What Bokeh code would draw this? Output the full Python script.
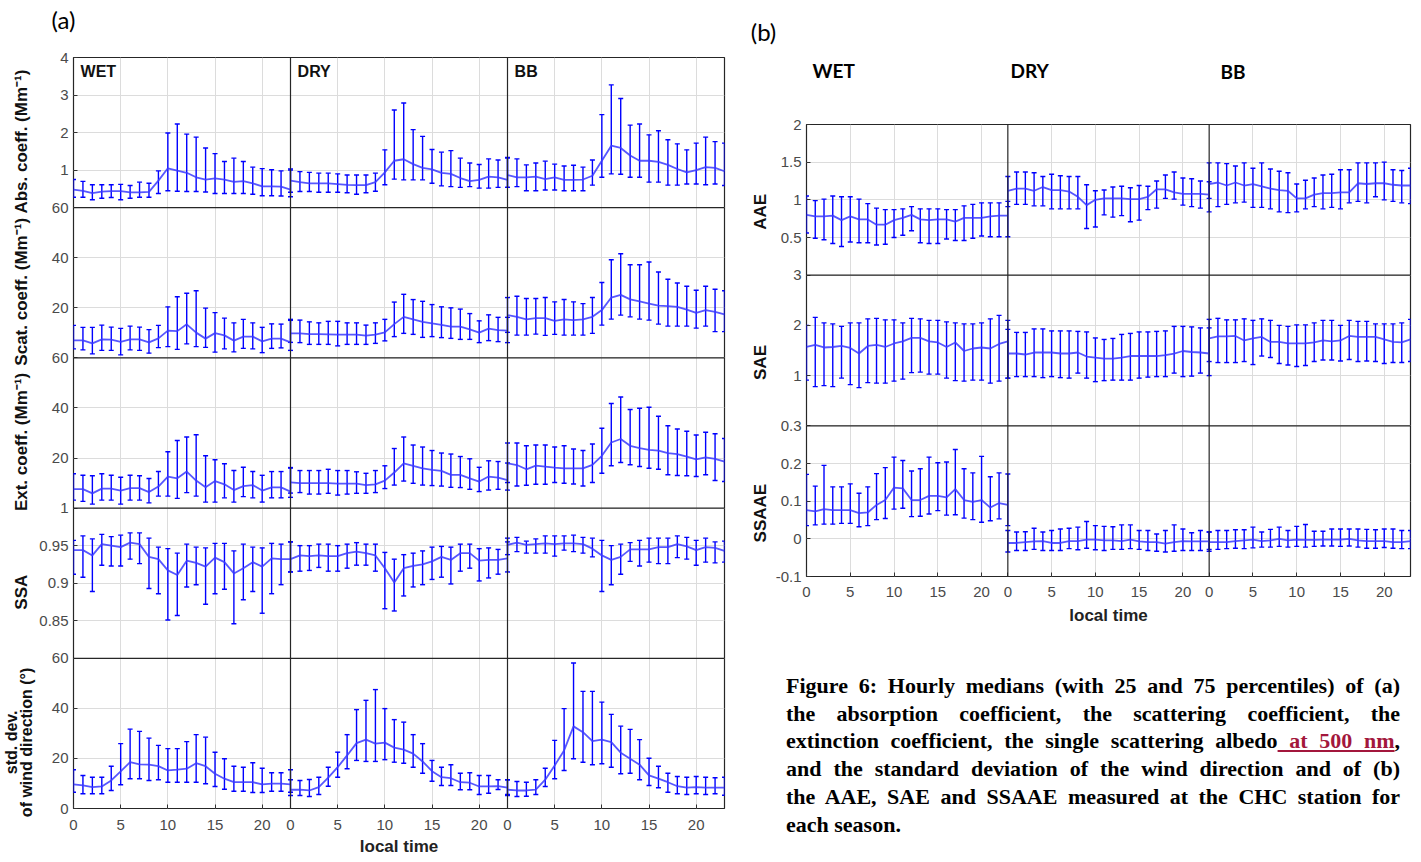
import math
from bokeh.plotting import figure
from bokeh.models import (Range1d, FixedTicker, ColumnDataSource, Whisker,
                          TeeHead, Span, Label, Div)
from bokeh.layouts import row, column
from bokeh.embed import file_html
from bokeh.resources import INLINE

hours = list(range(24))
seasons = ["WET", "DRY", "BB"]
hour_ticks = [0, 5, 10, 15, 20]

# ---------------- panel (a) data: median, 75th (hi), 25th (lo) ----------------
abs_wet_med = [0.48,0.45,0.39,0.43,0.44,0.44,0.41,0.41,0.42,0.72,1.05,0.99,0.93,0.81,0.75,0.78,0.75,0.69,0.71,0.65,0.57,0.57,0.56,0.48]
abs_wet_hi = [0.75,0.70,0.61,0.61,0.61,0.62,0.59,0.68,0.65,0.98,1.99,2.23,1.96,1.88,1.59,1.44,1.23,1.32,1.23,1.08,1.04,1.01,0.98,1.00]
abs_wet_lo = [0.28,0.28,0.21,0.25,0.27,0.21,0.25,0.28,0.28,0.38,0.45,0.44,0.43,0.43,0.42,0.38,0.38,0.38,0.38,0.36,0.32,0.32,0.31,0.29]
abs_dry_med = [0.72,0.68,0.65,0.65,0.65,0.63,0.61,0.60,0.60,0.68,0.94,1.25,1.29,1.16,1.06,1.02,0.93,0.90,0.79,0.71,0.74,0.83,0.81,0.74]
abs_dry_hi = [1.03,0.96,0.94,0.92,0.92,0.90,0.87,0.87,0.87,0.92,1.54,2.60,2.79,2.08,1.90,1.55,1.48,1.52,1.32,1.19,1.15,1.30,1.27,1.32]
abs_dry_lo = [0.41,0.43,0.43,0.41,0.41,0.41,0.40,0.36,0.40,0.44,0.61,0.76,0.74,0.74,0.74,0.65,0.58,0.56,0.54,0.56,0.52,0.52,0.54,0.54]
abs_bb_med = [0.87,0.81,0.81,0.83,0.76,0.81,0.74,0.74,0.75,0.85,1.25,1.65,1.59,1.39,1.25,1.25,1.22,1.14,1.03,0.94,1.00,1.08,1.06,0.97]
abs_bb_hi = [1.34,1.30,1.14,1.19,1.24,1.16,1.11,1.13,1.08,1.27,2.48,3.27,2.91,2.20,2.23,1.94,2.05,1.81,1.70,1.54,1.72,1.88,1.76,1.72]
abs_bb_lo = [0.54,0.56,0.45,0.45,0.47,0.47,0.45,0.45,0.45,0.60,0.81,0.90,0.89,0.81,0.81,0.68,0.68,0.60,0.60,0.63,0.63,0.61,0.63,0.59]

scat_wet_med = [7.0,7.0,5.8,7.4,7.3,6.4,7.4,7.4,6.2,7.8,10.9,10.7,13.4,10.1,7.7,9.9,9.0,6.9,8.5,8.5,6.6,7.7,7.7,6.2]
scat_wet_hi = [13.0,12.2,12.2,13.1,12.3,11.8,12.7,12.3,11.3,13.0,20.4,24.4,25.8,26.8,19.9,18.1,15.9,14.0,15.4,14.0,12.2,13.6,13.5,15.4]
scat_wet_lo = [3.6,3.2,1.6,3.0,3.0,1.2,3.2,3.0,1.9,4.1,4.5,3.4,5.6,4.5,4.2,2.3,3.6,2.4,3.8,3.6,2.1,3.8,4.0,3.0]
scat_dry_med = [9.8,9.8,9.5,9.5,9.4,9.3,9.3,9.3,8.9,9.3,10.2,13.5,16.4,15.4,14.4,13.8,13.2,12.5,12.5,11.4,10.1,11.7,11.1,10.9]
scat_dry_hi = [15.0,15.1,14.4,14.0,14.6,14.6,14.0,14.0,13.1,14.0,15.4,22.3,25.4,23.3,22.6,21.3,20.4,20.0,19.5,17.7,14.8,17.2,16.2,16.2]
scat_dry_lo = [6.2,6.1,5.4,5.4,5.4,4.8,5.4,5.4,5.4,5.8,6.8,8.5,9.8,9.4,8.2,8.5,8.1,7.8,7.4,7.4,6.1,6.9,6.5,6.1]
scat_bb_med = [17.1,16.4,15.4,15.9,15.9,14.8,15.4,15.1,15.4,16.4,19.1,24.1,25.2,23.4,22.6,21.7,20.9,20.7,20.4,19.3,18.0,19.1,18.4,17.4]
scat_bb_hi = [24.1,24.6,23.7,23.7,24.1,22.4,23.3,22.4,21.7,24.1,30.1,39.2,41.6,37.2,37.2,38.3,34.3,31.4,29.9,28.6,27.0,28.6,27.4,26.8]
scat_bb_lo = [10.2,9.1,9.1,9.5,9.0,9.4,9.1,9.1,9.1,9.8,13.1,15.5,17.1,16.4,15.5,15.1,13.5,12.7,12.7,12.7,11.9,12.7,10.5,10.5]

ext_wet_med = [7.6,7.6,5.9,7.8,7.8,7.0,8.0,8.0,6.4,8.6,12.6,11.9,14.6,11.0,8.3,10.8,9.5,7.2,8.8,9.2,7.0,8.3,8.3,6.6]
ext_wet_hi = [13.7,13.1,12.9,13.7,13.1,12.3,13.1,12.9,11.8,14.6,22.5,27.0,28.4,29.3,20.9,19.3,17.7,15.0,16.3,14.6,13.1,14.6,14.6,16.2]
ext_wet_lo = [3.2,2.7,1.6,3.2,3.2,1.6,3.2,3.2,2.1,4.8,4.8,3.9,6.2,4.8,2.4,2.4,4.1,2.4,4.6,4.1,2.4,4.1,4.1,4.3]
ext_dry_med = [10.3,10.0,10.0,10.0,10.0,9.8,9.8,9.8,9.2,9.5,11.0,14.2,17.9,16.9,15.9,15.3,14.9,13.3,13.3,11.9,10.6,12.6,12.2,11.2]
ext_dry_hi = [16.0,15.0,15.0,15.0,15.5,15.0,15.0,14.5,13.9,15.0,16.9,23.8,28.4,25.2,24.4,23.0,22.0,21.6,20.6,19.7,16.3,18.9,18.6,18.0]
ext_dry_lo = [6.0,6.2,5.6,5.6,5.9,5.2,5.6,5.9,5.9,6.2,7.8,9.2,10.8,9.9,9.2,9.0,8.8,8.3,8.2,7.5,6.6,7.2,7.5,7.2]
ext_bb_med = [17.9,17.2,15.5,17.0,16.6,16.2,15.9,15.9,15.9,17.3,20.9,26.2,27.6,24.9,24.0,23.3,23.0,22.0,21.6,20.6,19.5,20.3,19.7,18.6]
ext_bb_hi = [26.0,26.0,24.9,25.2,25.2,24.4,24.9,23.6,23.0,25.6,31.9,41.8,44.4,39.4,39.9,40.3,36.7,32.9,31.6,30.7,29.2,30.3,29.7,27.8]
ext_bb_lo = [10.2,8.8,9.1,9.5,9.5,10.2,9.9,9.6,8.8,10.2,13.9,16.9,18.2,17.3,16.6,15.9,15.5,13.3,13.0,12.9,12.6,13.3,11.0,10.6]

ssa_wet_med = [0.944,0.944,0.937,0.952,0.950,0.948,0.954,0.952,0.935,0.932,0.917,0.911,0.930,0.927,0.922,0.934,0.928,0.913,0.920,0.928,0.922,0.933,0.932,0.932]
ssa_wet_hi = [0.957,0.963,0.959,0.965,0.962,0.964,0.967,0.967,0.960,0.948,0.946,0.940,0.952,0.948,0.947,0.953,0.953,0.943,0.952,0.948,0.947,0.953,0.952,0.955]
ssa_wet_lo = [0.912,0.908,0.889,0.924,0.923,0.923,0.932,0.926,0.893,0.886,0.851,0.857,0.895,0.898,0.872,0.886,0.892,0.846,0.878,0.889,0.860,0.886,0.898,0.915]
ssa_dry_med = [0.932,0.937,0.936,0.937,0.936,0.936,0.940,0.942,0.940,0.937,0.920,0.901,0.920,0.923,0.925,0.929,0.935,0.931,0.940,0.940,0.930,0.931,0.931,0.933]
ssa_dry_hi = [0.955,0.950,0.950,0.952,0.952,0.950,0.952,0.954,0.952,0.952,0.941,0.932,0.938,0.940,0.943,0.948,0.949,0.948,0.952,0.952,0.946,0.947,0.945,0.955]
ssa_dry_lo = [0.915,0.916,0.917,0.921,0.916,0.916,0.920,0.924,0.924,0.916,0.866,0.863,0.883,0.895,0.898,0.905,0.908,0.899,0.916,0.920,0.903,0.907,0.912,0.915]
ssa_bb_med = [0.951,0.954,0.951,0.952,0.953,0.952,0.953,0.953,0.952,0.946,0.937,0.931,0.935,0.945,0.945,0.945,0.948,0.948,0.952,0.949,0.944,0.948,0.947,0.943]
ssa_bb_hi = [0.960,0.961,0.956,0.959,0.963,0.963,0.963,0.964,0.961,0.960,0.957,0.950,0.952,0.954,0.957,0.960,0.960,0.960,0.963,0.961,0.957,0.960,0.955,0.956]
ssa_bb_lo = [0.938,0.942,0.940,0.940,0.940,0.936,0.944,0.942,0.940,0.935,0.889,0.898,0.912,0.929,0.923,0.928,0.926,0.926,0.934,0.932,0.924,0.928,0.927,0.928]

wind_wet_med = [9.6,9.2,8.5,8.8,11.2,14.8,18.5,17.6,17.5,16.9,15.2,15.5,15.9,18.1,16.9,13.9,11.9,10.5,10.5,10.5,9.6,9.9,9.9,9.6]
wind_wet_hi = [15.5,13.2,12.5,12.5,16.9,25.9,31.7,30.8,28.1,25.2,23.9,23.9,26.7,29.5,28.5,22.5,19.9,16.9,16.5,18.3,16.1,14.3,14.3,15.5]
wind_wet_lo = [6.5,5.9,5.9,5.9,7.2,9.5,11.9,11.9,11.2,11.5,10.5,10.5,10.5,10.5,9.9,8.8,7.7,6.9,6.9,6.4,6.4,6.9,6.9,6.5]
wind_dry_med = [7.5,7.5,7.2,8.5,12.3,16.5,21.2,26.1,27.5,25.9,26.3,24.3,23.5,21.9,18.8,14.9,12.5,12.1,10.5,10.3,8.8,8.8,8.9,8.3]
wind_dry_hi = [11.5,11.2,11.6,12.5,16.5,22.5,29.5,39.5,43.2,47.5,39.9,35.5,34.5,29.5,25.9,19.2,16.5,17.5,14.1,14.3,13.2,13.2,11.5,11.5]
wind_dry_lo = [5.2,5.2,4.8,5.6,8.9,12.5,15.9,19.2,18.8,18.8,19.5,18.5,18.1,16.5,14.1,10.9,9.2,9.2,7.5,7.5,5.6,6.1,7.6,5.2]
wind_bb_med = [7.5,7.2,7.2,7.5,11.5,17.2,23.2,32.8,30.5,26.9,27.5,26.5,22.3,19.9,17.5,13.2,11.9,10.5,8.9,8.3,8.5,8.3,8.3,8.3]
wind_bb_hi = [11.5,10.8,10.5,11.5,16.1,27.2,39.9,58.1,46.8,46.8,42.5,37.6,32.9,31.6,27.5,20.1,16.9,14.1,12.8,12.5,12.8,12.5,12.3,12.5]
wind_bb_lo = [5.6,4.8,4.9,5.6,8.8,11.9,15.2,19.9,18.5,17.5,17.9,16.5,13.9,14.1,11.5,9.2,8.3,6.5,5.9,5.6,5.9,5.6,5.9,5.3]

# ---------------- panel (b) data ----------------
aae_wet_med = [0.80,0.78,0.78,0.79,0.73,0.78,0.74,0.74,0.67,0.67,0.73,0.76,0.80,0.74,0.73,0.74,0.74,0.71,0.76,0.76,0.76,0.78,0.79,0.79]
aae_wet_hi = [1.05,0.99,1.01,1.05,1.04,1.04,1.01,0.95,0.89,0.87,0.87,0.88,0.91,0.88,0.88,0.88,0.87,0.87,0.92,0.94,0.96,0.96,0.96,0.98]
aae_wet_lo = [0.56,0.49,0.47,0.42,0.38,0.44,0.43,0.43,0.40,0.41,0.50,0.53,0.59,0.43,0.42,0.42,0.48,0.46,0.46,0.49,0.52,0.51,0.51,0.51]
aae_dry_med = [1.12,1.15,1.15,1.12,1.17,1.13,1.13,1.11,1.04,0.93,1.00,1.02,1.02,1.02,1.01,1.01,1.04,1.14,1.14,1.10,1.08,1.08,1.08,1.07]
aae_dry_hi = [1.31,1.37,1.37,1.36,1.31,1.34,1.32,1.31,1.31,1.20,1.12,1.13,1.17,1.18,1.16,1.19,1.18,1.25,1.33,1.37,1.29,1.28,1.25,1.24]
aae_dry_lo = [0.91,0.94,0.94,0.92,0.92,0.88,0.88,0.88,0.88,0.62,0.64,0.80,0.77,0.79,0.71,0.73,0.87,0.89,1.02,1.01,0.93,0.91,0.89,0.84]
aae_bb_med = [1.21,1.23,1.19,1.23,1.19,1.21,1.18,1.15,1.13,1.12,1.02,1.02,1.07,1.09,1.09,1.10,1.10,1.22,1.21,1.22,1.22,1.20,1.19,1.19]
aae_bb_hi = [1.49,1.49,1.48,1.45,1.49,1.42,1.49,1.41,1.38,1.36,1.21,1.26,1.29,1.33,1.34,1.40,1.40,1.49,1.49,1.49,1.50,1.40,1.39,1.42]
aae_bb_lo = [1.02,0.91,0.94,0.96,0.97,0.90,0.90,0.88,0.84,0.83,0.84,0.88,0.91,0.88,0.90,0.88,0.96,0.98,0.96,1.04,1.00,0.98,0.96,0.95]

sae_wet_med = [1.57,1.61,1.56,1.57,1.59,1.55,1.44,1.59,1.61,1.57,1.64,1.68,1.75,1.75,1.68,1.66,1.57,1.66,1.49,1.54,1.56,1.54,1.63,1.68]
sae_wet_hi = [2.00,2.16,2.05,2.03,1.98,2.05,2.05,2.13,2.14,2.11,2.11,2.05,2.14,2.13,2.10,2.10,2.07,2.05,2.03,2.03,2.05,2.13,2.20,2.10]
sae_wet_lo = [0.91,0.78,0.80,0.78,0.95,0.82,0.76,0.86,0.85,0.85,0.89,0.93,1.06,1.07,1.03,1.03,0.95,0.90,0.89,0.91,0.91,0.85,0.89,0.95]
sae_dry_med = [1.44,1.44,1.42,1.46,1.46,1.46,1.44,1.44,1.46,1.38,1.36,1.34,1.34,1.36,1.39,1.39,1.39,1.39,1.41,1.44,1.49,1.47,1.46,1.44]
sae_dry_hi = [1.92,1.86,1.86,1.93,1.93,1.89,1.89,1.89,1.88,1.87,1.75,1.72,1.74,1.82,1.84,1.87,1.87,1.88,1.89,1.98,1.98,1.97,1.95,1.95]
sae_dry_lo = [0.95,0.98,0.98,0.98,0.96,0.98,0.96,0.95,1.05,0.95,0.88,0.90,0.91,0.91,0.91,0.95,0.97,0.98,0.98,1.05,0.98,0.99,1.05,1.00]
sae_bb_med = [1.74,1.78,1.78,1.79,1.70,1.74,1.77,1.67,1.67,1.64,1.64,1.64,1.66,1.70,1.68,1.70,1.79,1.77,1.77,1.77,1.72,1.67,1.66,1.72]
sae_bb_hi = [2.12,2.14,2.11,2.11,2.13,2.10,2.13,2.10,2.00,1.98,2.01,2.01,2.05,2.10,2.10,2.00,2.10,2.08,2.08,2.03,2.03,2.03,2.05,2.12]
sae_bb_lo = [1.28,1.26,1.26,1.26,1.28,1.22,1.39,1.36,1.24,1.21,1.18,1.20,1.28,1.31,1.31,1.29,1.32,1.28,1.29,1.28,1.24,1.26,1.26,1.28]

ssaae_wet_med = [0.076,0.073,0.079,0.076,0.076,0.076,0.068,0.070,0.090,0.103,0.136,0.134,0.103,0.103,0.114,0.114,0.110,0.132,0.103,0.098,0.103,0.083,0.095,0.090]
ssaae_wet_hi = [0.171,0.140,0.195,0.138,0.138,0.146,0.121,0.138,0.173,0.189,0.217,0.208,0.180,0.186,0.217,0.202,0.204,0.237,0.186,0.175,0.219,0.165,0.175,0.172]
ssaae_wet_lo = [0.035,0.037,0.039,0.039,0.041,0.041,0.032,0.035,0.051,0.054,0.079,0.081,0.059,0.060,0.066,0.075,0.063,0.064,0.055,0.051,0.044,0.048,0.053,0.035]
ssaae_dry_med = [-0.011,-0.011,-0.009,-0.007,-0.006,-0.011,-0.011,-0.006,-0.006,-0.002,-0.002,-0.004,-0.004,-0.006,-0.002,-0.007,-0.009,-0.009,-0.013,-0.009,-0.006,-0.007,-0.007,-0.007]
ssaae_dry_hi = [0.022,0.018,0.019,0.028,0.018,0.022,0.026,0.028,0.031,0.046,0.035,0.033,0.032,0.037,0.037,0.022,0.022,0.013,0.022,0.037,0.026,0.016,0.022,0.018]
ssaae_dry_lo = [-0.035,-0.031,-0.031,-0.028,-0.031,-0.031,-0.031,-0.026,-0.029,-0.025,-0.029,-0.031,-0.028,-0.028,-0.026,-0.028,-0.031,-0.033,-0.035,-0.033,-0.031,-0.031,-0.031,-0.033]
ssaae_bb_med = [-0.009,-0.009,-0.009,-0.006,-0.004,-0.002,-0.006,-0.004,0.0,-0.004,-0.002,-0.003,-0.003,-0.002,-0.002,-0.002,0.0,-0.004,-0.006,-0.006,-0.006,-0.009,-0.009,-0.006]
ssaae_bb_hi = [0.018,0.022,0.022,0.024,0.024,0.031,0.018,0.025,0.031,0.022,0.033,0.038,0.020,0.020,0.026,0.026,0.026,0.026,0.025,0.024,0.026,0.026,0.022,0.022]
ssaae_bb_lo = [-0.028,-0.028,-0.026,-0.025,-0.026,-0.024,-0.022,-0.022,-0.020,-0.022,-0.020,-0.022,-0.020,-0.019,-0.019,-0.020,-0.019,-0.022,-0.025,-0.025,-0.023,-0.025,-0.026,-0.026]

# ---------------- row definitions ----------------
a_limits = [(0, 4), (0, 60), (0, 60), (0.8, 1.0), (0, 60)]
a_ticks = [[1, 2, 3, 4], [20, 40, 60], [20, 40, 60], [0.85, 0.9, 0.95, 1], [0, 20, 40, 60]]
a_tick_labels = [["1", "2", "3", "4"], ["20", "40", "60"], ["20", "40", "60"],
                 ["0.85", "0.9", "0.95", "1"], ["0", "20", "40", "60"]]
a_data = [
    [(abs_wet_med, abs_wet_lo, abs_wet_hi), (abs_dry_med, abs_dry_lo, abs_dry_hi), (abs_bb_med, abs_bb_lo, abs_bb_hi)],
    [(scat_wet_med, scat_wet_lo, scat_wet_hi), (scat_dry_med, scat_dry_lo, scat_dry_hi), (scat_bb_med, scat_bb_lo, scat_bb_hi)],
    [(ext_wet_med, ext_wet_lo, ext_wet_hi), (ext_dry_med, ext_dry_lo, ext_dry_hi), (ext_bb_med, ext_bb_lo, ext_bb_hi)],
    [(ssa_wet_med, ssa_wet_lo, ssa_wet_hi), (ssa_dry_med, ssa_dry_lo, ssa_dry_hi), (ssa_bb_med, ssa_bb_lo, ssa_bb_hi)],
    [(wind_wet_med, wind_wet_lo, wind_wet_hi), (wind_dry_med, wind_dry_lo, wind_dry_hi), (wind_bb_med, wind_bb_lo, wind_bb_hi)],
]
a_ylabels = ["Abs. coeff. (Mm\u207b\u00b9)", "Scat. coeff. (Mm\u207b\u00b9)", "Ext. coeff. (Mm\u207b\u00b9)", "SSA"]
a_wind_label = ["std. dev.", "of wind direction (\u00b0)"]

b_limits = [(0, 2), (0, 3), (-0.1, 0.3)]
b_ticks = [[0.5, 1, 1.5, 2], [1, 2, 3], [-0.1, 0, 0.1, 0.2, 0.3]]
b_tick_labels = [["0.5", "1", "1.5", "2"], ["1", "2", "3"], ["-0.1", "0", "0.1", "0.2", "0.3"]]
b_data = [
    [(aae_wet_med, aae_wet_lo, aae_wet_hi), (aae_dry_med, aae_dry_lo, aae_dry_hi), (aae_bb_med, aae_bb_lo, aae_bb_hi)],
    [(sae_wet_med, sae_wet_lo, sae_wet_hi), (sae_dry_med, sae_dry_lo, sae_dry_hi), (sae_bb_med, sae_bb_lo, sae_bb_hi)],
    [(ssaae_wet_med, ssaae_wet_lo, ssaae_wet_hi), (ssaae_dry_med, ssaae_dry_lo, ssaae_dry_hi), (ssaae_bb_med, ssaae_bb_lo, ssaae_bb_hi)],
]
b_ylabels = ["AAE", "SAE", "SSAAE"]

caption_lines = [
    "Figure 6: Hourly medians (with 25 and 75 percentiles) of (a)",
    "the absorption coefficient, the scattering coefficient, the",
    "extinction coefficient, the single scattering albedo"
    "<span style=\"color:#a3173c;text-decoration:underline;\"> at 500 nm</span>,",
    "and the standard deviation of the wind direction and of (b)",
    "the AAE, SAE and SSAAE measured at the CHC station for",
    "each season.",
]

BLUE = "#0000ff"
AX_FONT = "Liberation Sans"
NCOL = 3
HSPAN = 23

# ---------------- layout sizes (px) ----------------
A_FW, A_FH = 651, 751
A_TOP, A_BOTTOM, A_LEFT, A_RIGHT = 9, 53, 37, 16
A_HEAD_H = 48
A_STRIP_W = 36
B_FW, B_FH = 604, 452
B_TOP, B_BOTTOM, B_LEFT, B_RIGHT = 12, 53, 34, 5
B_HEAD_H = 112
B_STRIP_W = 32


def build_panel(p, limits, ticks, tick_labels, data, xstand, ystand, lstand):
    nrows = len(limits)
    p.extra_x_ranges = {f"s{s}": Range1d(-HSPAN * s, HSPAN * (NCOL - s)) for s in range(NCOL)}
    yr = {}
    for r, (lo, hi) in enumerate(limits):
        span = hi - lo
        yr[f"r{r}"] = Range1d(lo - (nrows - 1 - r) * span, hi + r * span)
    p.extra_y_ranges = yr

    ypos, ylab = [], {}
    for r, (lo, hi) in enumerate(limits):
        base = nrows - 1 - r
        for t, lab_ in zip(ticks[r], tick_labels[r]):
            pos = round(base + (t - lo) / (hi - lo), 6)
            ypos.append(pos)
            ylab[pos] = lab_
    p.yaxis.ticker = FixedTicker(ticks=ypos)
    p.yaxis.major_label_overrides = ylab
    p.ygrid.ticker = FixedTicker(ticks=ypos)

    xpos = [s * HSPAN + t for s in range(NCOL) for t in hour_ticks]
    p.xaxis.ticker = FixedTicker(ticks=xpos)
    p.xaxis.major_label_overrides = {s * HSPAN + t: str(t) for s in range(NCOL) for t in hour_ticks}
    p.xgrid.ticker = FixedTicker(ticks=[s * HSPAN + t for s in range(NCOL) for t in hour_ticks if t > 0])

    for g in (p.xgrid, p.ygrid):
        g.grid_line_color = "#dcdcdc"
        g.grid_line_width = 1
    for ax in (p.xaxis, p.yaxis):
        ax.axis_line_color = None
        ax.major_tick_in = 4
        ax.major_tick_out = 0
        ax.minor_tick_line_color = None
        ax.major_tick_line_color = "#333333"
        ax.major_label_text_font = AX_FONT
        ax.major_label_text_font_size = "15px"
        ax.major_label_text_color = "#4a4a4a"
    p.yaxis.major_label_standoff = ystand
    p.xaxis.major_label_standoff = xstand
    p.xaxis.axis_label = "local time"
    p.xaxis.axis_label_standoff = lstand
    p.xaxis.axis_label_text_font = AX_FONT
    p.xaxis.axis_label_text_font_style = "bold"
    p.xaxis.axis_label_text_font_size = "17px"
    p.xaxis.axis_label_text_color = "#222222"
    p.outline_line_color = "#262626"
    p.outline_line_width = 1.2

    for b in range(1, nrows):
        p.add_layout(Span(location=b, dimension="width", line_color="#262626", line_width=1.2))
    for b in range(1, NCOL):
        p.add_layout(Span(location=b * HSPAN, dimension="height", line_color="#262626", line_width=1.2))

    for r in range(nrows):
        for s in range(NCOL):
            med, lo_, hi_ = data[r][s]
            src = ColumnDataSource(dict(h=hours, med=med, lo=lo_, hi=hi_))
            w = Whisker(source=src, base="h", upper="hi", lower="lo", dimension="height",
                        line_color=BLUE, line_width=1.4,
                        upper_head=TeeHead(size=5, line_color=BLUE, line_width=1.4),
                        lower_head=TeeHead(size=5, line_color=BLUE, line_width=1.4),
                        x_range_name=f"s{s}", y_range_name=f"r{r}")
            p.add_layout(w)
            p.line("h", "med", source=src, x_range_name=f"s{s}", y_range_name=f"r{r}",
                   line_color="#3a3aff", line_width=1.8, line_alpha=0.85)


def lab(p, x, y, text, size, font=AX_FONT, style="bold", angle=0.0, align="center", color="#111111"):
    p.add_layout(Label(x=x, y=y, text=text, text_font=font, text_font_style=style,
                       text_font_size=size, text_color=color, angle=angle,
                       text_align=align, text_baseline="middle"))


def text_fig(w, h, xr, yr):
    return figure(frame_width=w, frame_height=h, x_range=xr, y_range=yr,
                  x_axis_type=None, y_axis_type=None, output_backend="svg",
                  toolbar_location=None, title=None, min_border=0,
                  outline_line_color=None, background_fill_color="white",
                  border_fill_color="white")


# ---------------- panel (a) ----------------
pa = figure(frame_width=A_FW, frame_height=A_FH, x_range=Range1d(0, 69), y_range=Range1d(0, 5),
            output_backend="svg", toolbar_location=None, title=None,
            min_border_left=A_LEFT, min_border_right=A_RIGHT,
            min_border_top=A_TOP, min_border_bottom=A_BOTTOM,
            background_fill_color="white", border_fill_color="white")
build_panel(pa, a_limits, a_ticks, a_tick_labels, a_data, xstand=11, ystand=5, lstand=4)
for s, name in enumerate(seasons):
    lab(pa, s * HSPAN + 0.75, 4.905, name, "16px", align="left")

a_unit = A_FH / 5.0
A_W = A_STRIP_W + A_LEFT + A_FW + A_RIGHT
A_H = A_TOP + A_FH + A_BOTTOM

head_a = text_fig(A_W, A_HEAD_H, Range1d(0, A_W), Range1d(0, A_HEAD_H))
lab(head_a, 63, A_HEAD_H - 19, "(a)", "24px", font="Lato", style="normal", color="#000000")

strip_a = text_fig(A_STRIP_W, A_H, Range1d(0, A_STRIP_W),
                   Range1d(-A_BOTTOM / a_unit, 5 + A_TOP / a_unit))
for r, text in enumerate(a_ylabels):
    lab(strip_a, 21, 4.5 - r, text, "17px", angle=math.pi / 2)
lab(strip_a, 10.5, 0.5, a_wind_label[0], "16px", angle=math.pi / 2)
lab(strip_a, 26, 0.5, a_wind_label[1], "16px", angle=math.pi / 2)

# ---------------- panel (b) ----------------
pb = figure(frame_width=B_FW, frame_height=B_FH, x_range=Range1d(0, 69), y_range=Range1d(0, 3),
            output_backend="svg", toolbar_location=None, title=None,
            min_border_left=B_LEFT, min_border_right=B_RIGHT,
            min_border_top=B_TOP, min_border_bottom=B_BOTTOM,
            background_fill_color="white", border_fill_color="white")
build_panel(pb, b_limits, b_ticks, b_tick_labels, b_data, xstand=10, ystand=5, lstand=6)

b_unit = B_FH / 3.0
B_W = B_STRIP_W + B_LEFT + B_FW + B_RIGHT
B_H = B_TOP + B_FH + B_BOTTOM
B_X0 = A_W

head_b = text_fig(B_W, B_HEAD_H, Range1d(B_X0, B_X0 + B_W), Range1d(0, B_HEAD_H))
lab(head_b, 763, B_HEAD_H - 31, "(b)", "24px", font="Lato", style="normal", color="#000000")
for name, x0, y0 in zip(seasons, [812, 1010, 1220], [70, 70, 71]):
    lab(head_b, x0, B_HEAD_H - y0, name, "19px", font="Lato", align="left", color="#000000")

strip_b = text_fig(B_STRIP_W, B_H, Range1d(B_X0, B_X0 + B_STRIP_W),
                   Range1d(-B_BOTTOM / b_unit, 3 + B_TOP / b_unit))
for r, text in enumerate(b_ylabels):
    lab(strip_b, 760, 2.5 - r, text, "17px", angle=math.pi / 2)

# ---------------- caption ----------------
inner = ""
for i, line in enumerate(caption_lines):
    if i < len(caption_lines) - 1:
        inner += f'<div style="text-align:justify;text-align-last:justify;">{line}</div>'
    else:
        inner += f'<div style="text-align:left;">{line}</div>'
cap_top = 672 - (B_HEAD_H + B_H)
caption = Div(
    text=('<div style="font-family:\'Liberation Serif\';font-weight:bold;font-size:22px;'
          'line-height:27.7px;width:614px;color:#000;">' + inner + '</div>'),
    width=620, margin=(cap_top, 0, 0, 786 - B_X0))

layout = row(column(head_a, row(strip_a, pa)),
             column(head_b, row(strip_b, pb), caption))
open("out.html", "w").write(file_html(layout, INLINE, title="Figure 6"))
